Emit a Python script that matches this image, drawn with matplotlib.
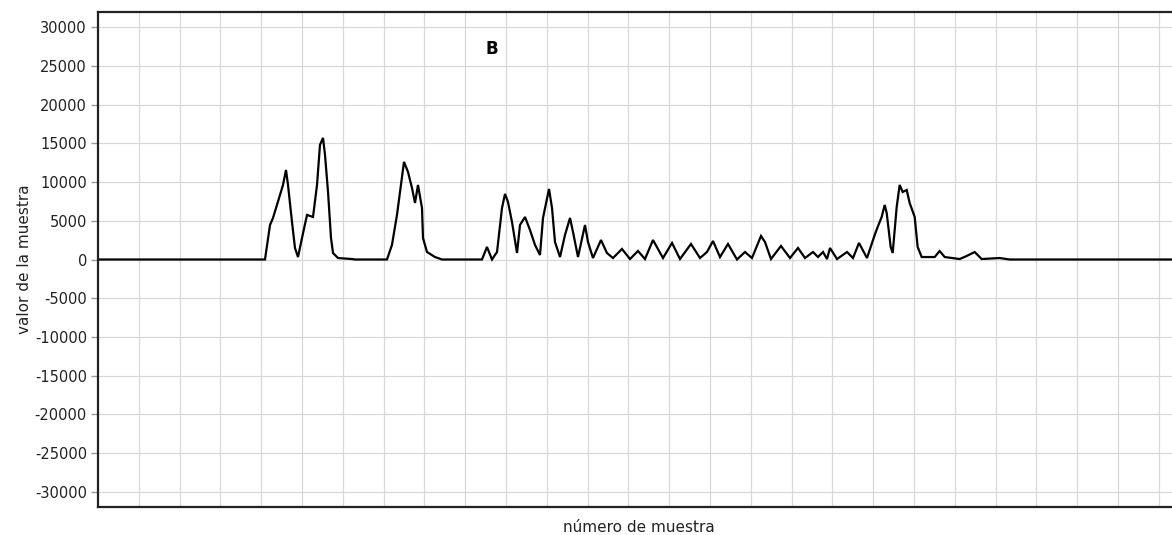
import matplotlib
matplotlib.use("Agg")
import matplotlib.pyplot as plt
import numpy as np

# sample index and sample value
muestra = [0, 4093, 4216, 4289, 4387, 4461, 4534, 4608, 4657, 4755, 4828, 4902,
           5000, 5123, 5270, 5368, 5441, 5515, 5564, 5638, 5711, 5760, 5883, 6226,
           6299, 7083, 7205, 7328, 7402, 7500, 7598, 7696, 7770, 7843, 7941, 7966,
           8064, 8260, 8431, 9411, 9534, 9657, 9780, 9902, 9976, 10049, 10147, 10270,
           10343, 10466, 10588, 10711, 10833, 10907, 11054, 11128, 11201, 11324,
           11446, 11569, 11642, 11765, 11936, 12010, 12132, 12328, 12475, 12622,
           12843, 13039, 13235, 13407, 13603, 13848, 14069, 14265, 14534, 14755,
           14926, 15074, 15245, 15441, 15662, 15858, 16029, 16250, 16348, 16495,
           16740, 16961, 17157, 17329, 17525, 17647, 17770, 17868, 17941, 18113,
           18358, 18505, 18652, 18848, 19037, 19110, 19208, 19282, 19331, 19429,
           19478, 19576, 19649, 19723, 19821, 19894, 20017, 20090, 20188, 20507,
           20629, 20752, 21119, 21291, 21487, 21659, 22099, 22271, 22344, 26600]
valor = [0, 0, 4460, 5370, 7050, 8350, 9640, 11580, 9640, 4850, 1490, 320,
         2780, 5760, 5500, 9640, 14820, 15720, 13520, 8730, 2780, 840, 190, 60,
         0, 0, 1880, 5760, 8730, 12620, 11320, 9250, 7310, 9640, 6660, 2780,
         970, 320, 0, 0, 1620, 0, 970, 6660, 8480, 7440, 4850, 840,
         4460, 5500, 3820, 1880, 580, 5370, 9120, 6660, 2260, 320,
         3170, 5370, 3560, 320, 4460, 2260, 190, 2520, 840, 190,
         1360, 60, 1100, 60, 2520, 190, 2140, 60, 2010, 190,
         970, 2390, 320, 2010, 0, 970, 190, 3040, 2260, 60,
         1750, 190, 1490, 190, 970, 320, 970, 60, 1490, 60,
         970, 190, 2140, 190, 3170, 4210, 5500, 7050, 6020, 1620,
         840, 6790, 9640, 8730, 8990, 7310, 5500, 1620, 320, 320,
         1100, 320, 60, 450, 970, 60, 190, 60, 0, 0]

yticks = list(range(-30000, 30001, 5000))
xgrid = list(range(1000, 27000, 1000))

fig = plt.figure(figsize=(11.72, 5.35), dpi=100)
ax = fig.add_axes([98 / 1172, 28 / 535, (1180 - 98) / 1172, (507 - 12) / 535])

ax.plot(muestra, valor, color="black", lw=1.6, solid_joinstyle="miter")

ax.set_xlim(0, 26520)
ax.set_ylim(-32000, 32000)
ax.set_yticks(yticks)
ax.set_yticklabels([str(t) for t in yticks], fontsize=10.5, color="#222222")
ax.set_xticks(xgrid)
ax.set_xticklabels([])
ax.tick_params(axis="x", length=0)
ax.tick_params(axis="y", length=5, width=1, color="#999999", pad=3)
ax.grid(True, color="#d8d8d8", lw=0.9)
ax.set_axisbelow(True)
for s in ax.spines.values():
    s.set_linewidth(1.6)
    s.set_color("#222222")

ax.set_ylabel("valor de la muestra", fontsize=11, color="#222222", labelpad=2)
ax.set_xlabel("número de muestra", fontsize=11, color="#222222", labelpad=6)
ax.text(0.364, 0.925, "B", transform=ax.transAxes, fontsize=12,
        fontweight="bold", ha="center", va="center", color="black")

fig.savefig("out.png", dpi=100)
